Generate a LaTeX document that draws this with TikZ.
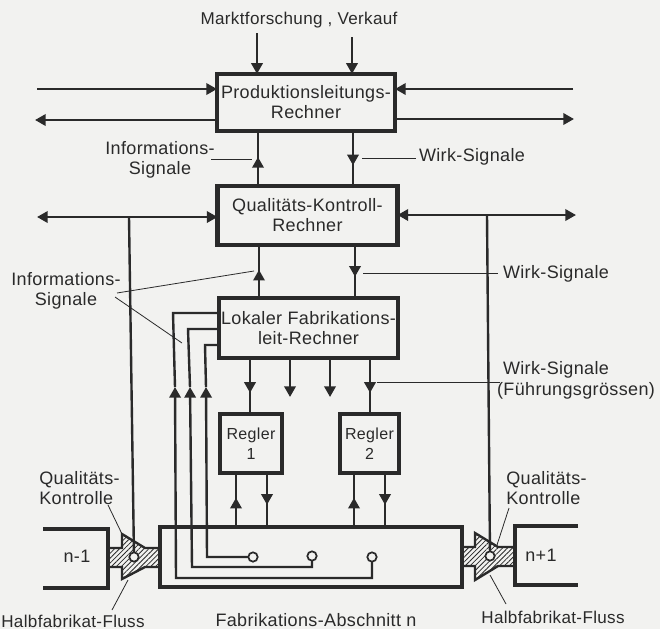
\documentclass[tikz,border=0pt]{standalone}
\usepackage{fontspec}
\setmainfont[LetterSpace=2]{Liberation Sans}
\usepackage{xcolor}
\usepackage{tikz}
\usetikzlibrary{arrows.meta,decorations.markings,patterns.meta}
\definecolor{paper}{HTML}{F2F2F0}
\definecolor{ink}{HTML}{2A2A2A}
\tikzset{blk/.style={rectangle,draw=ink,line width=3.2pt,outer sep=0pt,inner sep=0pt,align=center,text=ink,font=\fontsize{13.5}{15}\selectfont},
  lab/.style={align=center,text=ink,inner sep=0pt,font=\fontsize{13.5}{15}\selectfont},
  smalllab/.style={font=\fontsize{12.8}{15}\selectfont},
  sig/.style={draw=ink,line width=1.8pt},
  hair/.style={draw=ink,line width=0.6pt},
  wall/.style={draw=ink,line width=2.6pt,line join=miter},
  sens/.style={circle,draw=ink,fill=paper,line width=1.3pt,minimum size=7pt,inner sep=0pt,outer sep=0pt},
  hatch/.style={pattern={Lines[angle=45,distance=2.6pt,line width=0.6pt]},pattern color=ink},
  headat/.style={postaction={decorate},decoration={markings,mark=at position #1 with {\arrow{>}}}}}
\begin{document}
\begin{tikzpicture}[x=0.75pt,y=-0.75pt,>={Triangle[length=8pt,width=8.5pt]}]
        \fill[paper] (0,0) rectangle (660,629);
        \useasboundingbox (0,0) rectangle (660,629);

        \node[blk,minimum width=133.5pt,minimum height=43pt] (prod) at (306,102.5) {Produktionsleitungs-\\Rechner};
        \node[blk,minimum width=135pt,minimum height=44pt] (qual) at (307.5,215.5) {Qualitäts-Kontroll-\\Rechner};
        \node[blk,minimum width=134pt,minimum height=45pt] (lok) at (308.5,328) {Lokaler Fabrikations-\\leit-Rechner};
        \node[blk,smalllab,font=\fontsize{12}{15}\selectfont,minimum width=46pt,minimum height=44pt] (r1) at (251,443.5) {Regler\\1};
        \node[blk,smalllab,font=\fontsize{12}{15}\selectfont,minimum width=44pt,minimum height=44pt] (r2) at (369.5,443.5) {Regler\\2};
        \node[blk,minimum width=226.5pt,minimum height=45pt] (fab) at (311,557) {};

        \node[lab,smalllab] (markt) at (299,20) {Marktforschung , Verkauf};
        \node[lab] (inf1) at (160,160) {Informations-\\Signale};
        \node[lab] (wirk1) at (472,157) {Wirk-Signale};
        \node[lab] (inf2) at (66,291) {Informations-\\Signale};
        \node[lab] (wirk2) at (556,274) {Wirk-Signale};
        \node[lab] (wirk3) at (556,370) {Wirk-Signale};
        \node[lab] (fuehr) at (576,391) {(Führungsgrössen)};
        \node[lab,align=left] (qk1) at (79.5,488) {Qualitäts-\\Kontrolle};
        \node[lab,align=left] (qk2) at (546.5,488) {Qualitäts-\\Kontrolle};
        \node[lab,smalllab] (hf1) at (73,621) {Halbfabrikat-Fluss};
        \node[lab,smalllab] (hf2) at (553,617) {Halbfabrikat-Fluss};
        \node[lab] (abs) at (316,620) {Fabrikations-Abschnitt n};
        \node[lab] (nm) at (77,556) {n-1};
        \node[lab] (np) at (541,555) {n+1};

        % upper inputs and outputs
        \coordinate (m1) at (257,33);
        \coordinate (m2) at (352,37);
        \coordinate (pl1) at (37,89);
        \coordinate (pl2) at (35,120);
        \coordinate (pr1) at (573,89);
        \coordinate (pr2) at (574,119);
        \coordinate (ql) at (37,217);
        \coordinate (qr) at (576,215);
        \draw [->,sig] (m1) to (m1 |- prod.north);
        \draw [->,sig] (m2) to (m2 |- prod.north);
        \draw [->,sig] (pl1) to (pl1 -| prod.west);
        \draw [->,sig] (pl2 -| prod.west) to (pl2);
        \draw [->,sig] (pr1) to (pr1 -| prod.east);
        \draw [->,sig] (pr2 -| prod.east) to (pr2);
        \draw [<->,sig] (ql) to (ql -| qual.west);
        \draw [<->,sig] (qual.east |- qr) to (qr);

        % between the computers
        \coordinate (a1) at (258,150);
        \coordinate (a2) at (353,150);
        \coordinate (a3) at (259,270);
        \coordinate (a4) at (355,270);
        \draw [sig,headat=0.53] (a1 |- qual.north) to (a1 |- prod.south);
        \draw [sig,headat=0.62] (a2 |- prod.south) to (a2 |- qual.north);
        \draw [sig,headat=0.53] (a3 |- lok.north) to (a3 |- qual.south);
        \draw [sig,headat=0.60] (a4 |- qual.south) to (a4 |- lok.north);

        % outputs of the local computer
        \coordinate (o1) at (250,397);
        \coordinate (o2) at (290,397);
        \coordinate (o3) at (330,397);
        \coordinate (o4) at (370,397);
        \draw [sig,headat=0.62] (o1 |- lok.south) to (o1 |- r1.north);
        \draw [->,sig] (o2 |- lok.south) to (o2);
        \draw [->,sig] (o3 |- lok.south) to (o3);
        \draw [sig,headat=0.62] (o4 |- lok.south) to (o4 |- r2.north);

        % controllers and section
        \coordinate (c1) at (236,500);
        \coordinate (c2) at (267,500);
        \coordinate (c3) at (354,500);
        \coordinate (c4) at (385,500);
        \draw [sig,headat=0.54] (c1 |- fab.north) to (c1 |- r1.south);
        \draw [sig,headat=0.59] (c2 |- r1.south) to (c2 |- fab.north);
        \draw [sig,headat=0.54] (c3 |- fab.north) to (c3 |- r2.south);
        \draw [sig,headat=0.59] (c4 |- r2.south) to (c4 |- fab.north);

        % measuring points back to the local computer
        \node[sens] (s1) at (253,557) {};
        \node[sens] (s2) at (312,556) {};
        \node[sens] (s3) at (372,557) {};
        \coordinate (b1) at (207,557);
        \coordinate (b2) at (192,567);
        \coordinate (b3) at (176,578);
        \coordinate (h1) at (206,387);
        \coordinate (h2) at (190,387);
        \coordinate (h3) at (175,387);
        \coordinate (t1) at (205,345);
        \coordinate (t2) at (188,329);
        \coordinate (t3) at (173,313);
        \draw [->,sig] (s1) to (b1) to (h1);
        \draw [->,sig] (s2.south) to (s2.south |- b2) to (b2) to (h2);
        \draw [->,sig] (s3.south) to (s3.south |- b3) to (b3) to (h3);
        \draw [sig] (h1) to (t1) to (t1 -| lok.west);
        \draw [sig] (h2) to (t2) to (t2 -| lok.west);
        \draw [sig] (h3) to (t3) to (t3 -| lok.west);

        % neighbouring sections and flow
        \draw [wall] (43,529) -- (108,529) -- (108,588) -- (43,588);
        \draw [wall] (578,526) -- (515,526) -- (515,585) -- (578,585);
        \draw [hatch,line width=1.8pt,draw=ink] (108,548) -- (122,548) -- (122,534) -- (145,548) -- (160,548) -- (160,567) -- (145,567) -- (122,579) -- (122,567) -- (108,567) -- cycle;
        \draw [hatch,line width=1.8pt,draw=ink] (462,547) -- (475,547) -- (475,533) -- (498,547) -- (515,547) -- (515,566) -- (498,566) -- (475,580) -- (475,566) -- (462,566) -- cycle;
        \node[sens] (k1) at (134,557) {};
        \node[sens] (k2) at (490,556) {};
        \coordinate (v1) at (129,217);
        \coordinate (v2) at (487,215);
        \draw [sig] (v1) to (k1);
        \draw [sig] (v2) to (k2);

        % leader lines
        \coordinate (l1) at (211,159);
        \coordinate (l2) at (252,159);
        \coordinate (l3) at (362,158);
        \coordinate (l4) at (416,158);
        \coordinate (l5) at (363,273);
        \coordinate (l6) at (498,273);
        \coordinate (l7) at (117,293);
        \coordinate (l8) at (254,271);
        \coordinate (l9) at (115,297);
        \coordinate (l10) at (182,343);
        \coordinate (l11) at (377,382);
        \coordinate (l12) at (500,382);
        \draw [hair] (l1) to (l2);
        \draw [hair] (l3) to (l4);
        \draw [hair] (l5) to (l6);
        \draw [hair] (l7) to (l8);
        \draw [hair] (l9) to (l10);
        \draw [hair] (l11) to (l12);
        \coordinate (l13) at (108,505);
        \coordinate (l14) at (122,534);
        \coordinate (l15) at (112,610);
        \coordinate (l16) at (128,580);
        \coordinate (l17) at (509,508);
        \coordinate (l18) at (497,545);
        \coordinate (l19) at (506,604);
        \coordinate (l20) at (490,575);
        \draw [hair] (l13) to (l14);
        \draw [hair] (l15) to (l16);
        \draw [hair] (l17) to (l18);
        \draw [hair] (l19) to (l20);
    \end{tikzpicture}
\end{document}
